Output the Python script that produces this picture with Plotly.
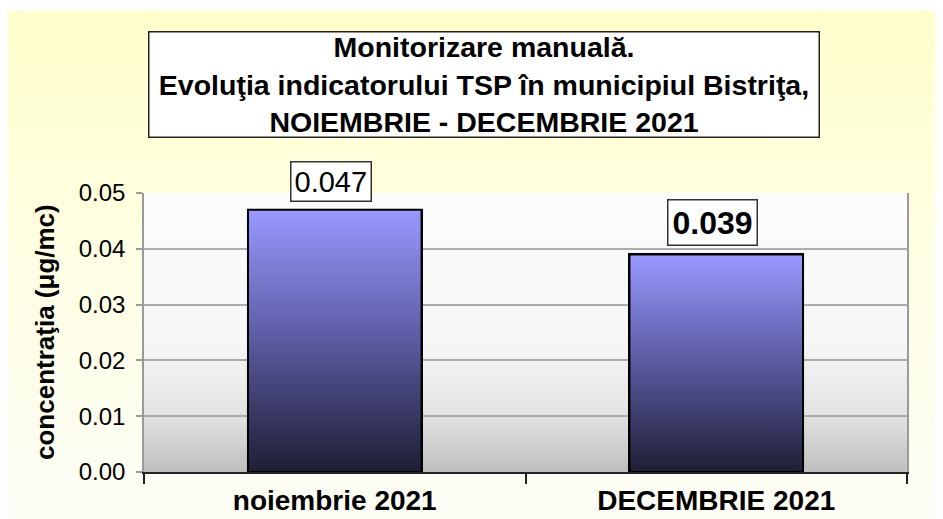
import base64
import plotly.graph_objects as go

# ---- data ----
categories = ["noiembrie 2021", "DECEMBRIE 2021"]
values = [0.047, 0.039]
value_labels = ["0.047", "0.039"]
y_ticks = [0.00, 0.01, 0.02, 0.03, 0.04, 0.05]
y_tick_labels = ["0.00", "0.01", "0.02", "0.03", "0.04", "0.05"]

title_lines = ["Monitorizare manuală.",
               "Evoluţia indicatorului TSP în municipiul Bistriţa,",
               "NOIEMBRIE - DECEMBRIE 2021"]
y_title = "concentraţia (μg/mc)"

# ---- layout constants (pixels, relative to the figure which sits 8px into the page) ----
OFF = 8
W, H = 943 - OFF, 519 - OFF
PL, PR, PT, PB = 144 - OFF, 907 - OFF, 193 - OFF, 472 - OFF
PW, PH = PR - PL, PB - PT
FONT = "Liberation Sans, Arial, sans-serif"
BAR_W = 0.455


def px_x(px):
    return (px - OFF - PL) / PW


def px_y(py):
    return (PB - (py - OFF)) / PH


def svg_grad(stops):
    st = "".join(f'<stop offset="{o}" stop-color="{c}"/>' for o, c in stops)
    svg = ('<svg xmlns="http://www.w3.org/2000/svg" width="100" height="100" preserveAspectRatio="none">'
           '<defs><linearGradient id="g" x1="0" y1="0" x2="0" y2="1">' + st +
           '</linearGradient></defs><rect width="100" height="100" fill="url(#g)"/></svg>')
    return "data:image/svg+xml;base64," + base64.b64encode(svg.encode()).decode()


xs = list(range(len(categories)))

fig = go.Figure()
fig.add_trace(go.Bar(
    x=xs, y=values, width=BAR_W,
    marker=dict(color="#5c5c9b", line=dict(color="black", width=2)),
    hoverinfo="skip", showlegend=False,
))
# gradient paint over each bar (same geometry as the bar)
for x, v in zip(xs, values):
    fig.add_trace(go.Scatter(
        x=[x - BAR_W / 2, x - BAR_W / 2, x + BAR_W / 2, x + BAR_W / 2, x - BAR_W / 2],
        y=[0, v, v, 0, 0],
        mode="lines", fill="toself",
        fillgradient=dict(type="vertical", start=0, stop=v,
                          colorscale=[[0, "#1e1e34"], [0.5, "#5a5aa0"], [1, "#9999ff"]]),
        line=dict(color="black", width=2),
        hoverinfo="skip", showlegend=False,
    ))

annotations = []
# data labels
label_styles = [dict(size=29, bold=False, pad=3), dict(size=32, bold=True, pad=4)]
for x, v, lab, st in zip(xs, values, value_labels, label_styles):
    txt = f"<b>{lab}</b>" if st["bold"] else lab
    annotations.append(dict(
        x=x, y=v, xref="x", yref="y", text=txt, showarrow=False,
        yanchor="bottom", yshift=8, xshift=-4,
        font=dict(family=FONT, size=st["size"], color="black"),
        bgcolor="white", bordercolor="#333333", borderwidth=1.5, borderpad=st["pad"],
    ))
# title box
annotations.append(dict(
    x=px_x(484), y=px_y(31), xref="paper", yref="paper",
    xanchor="center", yanchor="top",
    text="<br>".join(f"<b>{t}</b>" for t in title_lines),
    showarrow=False, align="center",
    width=667, height=102,
    font=dict(family=FONT, size=28.5, color="black"),
    bgcolor="white", bordercolor="#222222", borderwidth=1.5, borderpad=1,
))
# y axis title
annotations.append(dict(
    x=px_x(45), y=px_y(332), xref="paper", yref="paper",
    xanchor="center", yanchor="middle",
    text=f"<b>{y_title}</b>", textangle=-90, showarrow=False,
    font=dict(family=FONT, size=26, color="black"),
))

images = [
    # page background gradient
    dict(source=svg_grad([(0, "#ffffcc"), (0.5, "#fefee4"), (1, "#fdfdf6")]),
         xref="paper", yref="paper", x=px_x(7), y=px_y(11),
         sizex=(W + 2) / PW, sizey=(H - 3) / PH,
         xanchor="left", yanchor="top", sizing="stretch", layer="below"),
    # plot area gradient
    dict(source=svg_grad([(0, "#fcfcfc"), (0.55, "#f6f6f6"), (0.8, "#e2e2e2"), (1, "#bebebe")]),
         xref="paper", yref="paper", x=0, y=1, sizex=1, sizey=1,
         xanchor="left", yanchor="top", sizing="stretch", layer="below"),
]

fig.update_layout(
    width=W, height=H, autosize=False,
    margin=dict(l=PL, r=W - PR, t=PT, b=H - PB, pad=0, autoexpand=False),
    paper_bgcolor="white", plot_bgcolor="rgba(0,0,0,0)",
    images=images, annotations=annotations,
    showlegend=False, bargap=0,
    font=dict(family=FONT, color="black"),
)
fig.update_xaxes(
    range=[-0.5, len(categories) - 0.5], automargin=False,
    tickvals=xs, ticktext=[f"<b>{c}</b>" for c in categories],
    ticks="", showgrid=False, zeroline=False,
    showline=True, linecolor="#222222", linewidth=1.5,
    tickfont=dict(family=FONT, size=28, color="black"),
    ticklabelstandoff=3,
    minor=dict(tickvals=[i - 0.5 for i in range(len(categories) + 1)],
               ticks="outside", ticklen=10, tickcolor="#222222", tickwidth=1.5),
)
fig.update_yaxes(
    range=[0, 0.05], automargin=False,
    tickvals=y_ticks, ticktext=y_tick_labels,
    ticks="outside", ticklen=6, tickcolor="#9a9a9a", tickwidth=1.5,
    showgrid=True, gridcolor="#acacac", gridwidth=1.5,
    zeroline=False,
    showline=True, mirror=True, linecolor="#9a9a9a", linewidth=1.5,
    tickfont=dict(family=FONT, size=24, color="black"),
    ticklabelstandoff=6,
)

fig.write_html("out.html")
